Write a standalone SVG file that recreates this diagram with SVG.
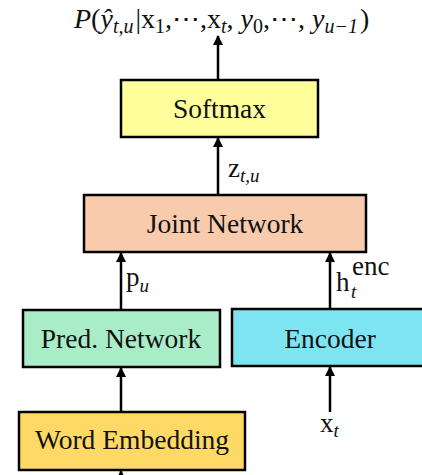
<svg xmlns="http://www.w3.org/2000/svg" width="422" height="475" viewBox="0 0 422 475">
  <style>
    .box { stroke: #000; stroke-width: 2.5; }
    .lbl { font-family: "Liberation Serif", "Times New Roman", serif; font-size: 27.5px; fill: #111; text-anchor: middle; }
    .math { font-family: "Liberation Serif", "Times New Roman", serif; font-size: 27px; fill: #111; }
    .title { font-size: 28px; }
    .it { font-style: italic; }
    .sub { font-size: 19px; font-style: italic; }
    .title .sub { font-size: 20px; }
    .up { font-style: normal; }
    .wire { stroke: #000; stroke-width: 2.5; fill: none; marker-end: url(#head); }
  </style>
  <defs>
    <marker id="head" viewBox="0 0 10 10" refX="9" refY="5" markerWidth="4" markerHeight="4.4" orient="auto" markerUnits="strokeWidth">
      <path d="M0,0 L10,5 L0,10 z" fill="#000"/>
    </marker>
  </defs>

  <rect width="422" height="475" fill="#fff"/>

  <!-- output distribution -->
  <text class="math title" x="74" y="28"><tspan class="it">P</tspan>(<tspan class="it">ŷ</tspan><tspan class="sub" dy="5">t,u</tspan><tspan dy="-5" dx="2">|x</tspan><tspan class="sub up" dy="5">1</tspan><tspan dy="-5">,⋯,x</tspan><tspan class="sub" dy="5">t</tspan><tspan dy="-5">, </tspan><tspan class="it">y</tspan><tspan class="sub up" dy="5">0</tspan><tspan dy="-5">,⋯, </tspan><tspan class="it">y</tspan><tspan class="sub" dy="5">u−1</tspan><tspan dy="-5" dx="2">)</tspan></text>

  <g id="connectors">
    <line class="wire" x1="218" y1="80" x2="218" y2="36"/>
    <line class="wire" x1="218" y1="195" x2="218" y2="138"/>
    <line class="wire" x1="121" y1="310" x2="121" y2="253"/>
    <line class="wire" x1="330" y1="309" x2="330" y2="253"/>
    <line class="wire" x1="121" y1="412" x2="121" y2="368"/>
    <line class="wire" x1="330" y1="412" x2="330" y2="367"/>
    <line class="wire" x1="121" y1="480" x2="121" y2="471"/>
  </g>

  <g id="softmax">
    <rect class="box" x="121" y="80" width="197" height="57" fill="#FFFF9C"/>
    <text class="lbl" x="219.5" y="118">Softmax</text>
  </g>

  <g id="z-label">
    <text class="math" x="228" y="177">z<tspan class="sub" dy="5">t,u</tspan></text>
  </g>

  <g id="joint">
    <rect class="box" x="84" y="195" width="282" height="57" fill="#F8CBAD"/>
    <text class="lbl" x="225" y="233">Joint Network</text>
  </g>

  <g id="p-label">
    <text class="math" x="126" y="286">p<tspan class="sub" dy="6">u</tspan></text>
  </g>

  <g id="h-label">
    <text class="math" x="336" y="291">h</text>
    <text class="math sub" x="351" y="298">t</text>
    <text class="math" font-size="19" x="352" y="275">enc</text>
  </g>

  <g id="pred">
    <rect class="box" x="23" y="310" width="197" height="57" fill="#A9EDC8"/>
    <text class="lbl" x="121" y="347.5">Pred. Network</text>
  </g>

  <g id="encoder">
    <rect class="box" x="232" y="309" width="200" height="57" fill="#7DE5F2"/>
    <text class="lbl" x="330" y="347.5">Encoder</text>
  </g>

  <g id="x-label">
    <text class="math" x="320" y="432">x<tspan class="sub" dy="5">t</tspan></text>
  </g>

  <g id="embedding">
    <rect class="box" x="19" y="412" width="226" height="58" fill="#FFD966"/>
    <text class="lbl" x="132" y="449">Word Embedding</text>
  </g>
</svg>
